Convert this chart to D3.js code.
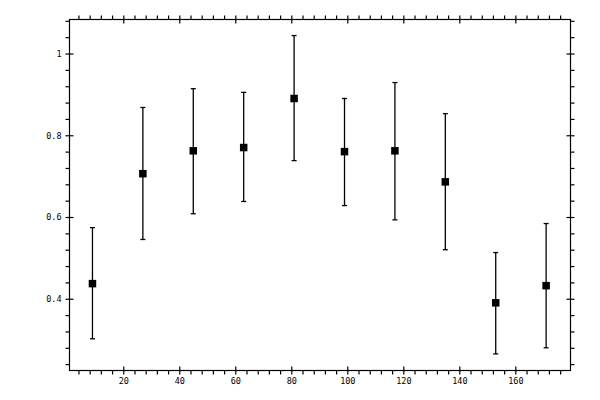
<!DOCTYPE html>
<html lang="en">
<head>
<meta charset="utf-8">
<title>Error bar chart</title>
<style>
body { margin: 0; background: #fff; }
.tickText { font: 8.5px "DejaVu Sans Mono", monospace; fill: #000; }
</style>
</head>
<body>
<div id="chart"></div>
<script src="https://d3js.org/d3.v7.min.js"></script>
<script>
// data
var xValues = [9, 27, 45, 63, 81, 99, 117, 135, 153, 171];
var meanValues = [0.437, 0.706, 0.762, 0.770, 0.890, 0.760, 0.762, 0.686, 0.390, 0.432];
var upperValues = [0.574, 0.868, 0.914, 0.905, 1.044, 0.890, 0.929, 0.853, 0.513, 0.584];
var lowerValues = [0.302, 0.545, 0.608, 0.638, 0.738, 0.628, 0.593, 0.520, 0.265, 0.280];
var xMajorTicks = [20, 40, 60, 80, 100, 120, 140, 160];
var yMajorTicks = [0.4, 0.6, 0.8, 1];

var width = 600, height = 400;
// plot frame (window.top is reserved, so no bare "top")
var plotLeft = 69.5, plotRight = 570.5, plotTop = 19.5, plotBottom = 370.5;

var x = d3.scaleLinear().domain([0.8, 179.7]).range([plotLeft, plotRight]);
var y = d3.scaleLinear().domain([0.2244, 1.0833]).range([plotBottom, plotTop]);

var xMinor = d3.range(4, 180, 4).filter(function(v) { return v % 20 != 0; });
var yMinor = d3.range(24, 109, 4).map(function(v) { return v / 100; })
  .filter(function(v) { return Math.round(v * 100) % 20 != 0; });

var svg = d3.select('#chart').append('svg')
  .attr('width', width).attr('height', height);

// frame
svg.append('rect')
  .attr('x', plotLeft).attr('y', plotTop)
  .attr('width', plotRight - plotLeft).attr('height', plotBottom - plotTop)
  .attr('fill', 'none').attr('stroke', '#000').attr('stroke-width', 1.2);

// axes: minor ticks outward, major ticks crossing the frame
function addAxis(axisFn, scale, pos, major, minor, labels) {
  var g = svg.append('g').attr('transform', pos);
  g.append('g').call(axisFn(scale).tickValues(minor).tickSize(4).tickFormat(''));
  var m = g.append('g').call(axisFn(scale).tickValues(major).tickSize(4)
    .tickFormat(labels ? d3.format('') : ''));
  g.selectAll('.domain').remove();
  g.selectAll('line').attr('stroke-width', 1.2);
  return m;
}
function cross(m, attr) {
  m.selectAll('line').attr(attr, function() {
    return -d3.select(this).attr(attr === 'x1' ? 'x2' : 'y2');
  });
}

var bottomAx = addAxis(d3.axisBottom, x, 'translate(0,' + plotBottom + ')', xMajorTicks, xMinor, true);
cross(bottomAx, 'y1');
bottomAx.selectAll('text').attr('y', 7).attr('dy', '0.71em');
var topAx = addAxis(d3.axisTop, x, 'translate(0,' + plotTop + ')', xMajorTicks, xMinor, false);
cross(topAx, 'y1');
var leftAx = addAxis(d3.axisLeft, y, 'translate(' + plotLeft + ',0)', yMajorTicks, yMinor, true);
cross(leftAx, 'x1');
leftAx.selectAll('text').attr('x', -8);
var rightAx = addAxis(d3.axisRight, y, 'translate(' + plotRight + ',0)', yMajorTicks, yMinor, false);
cross(rightAx, 'x1');
svg.selectAll('.tick text').attr('fill', '#000')
  .style('font-family', '"DejaVu Sans Mono", monospace').style('font-size', '8.5px');

// error bars
var pts = xValues.map(function(v, i) {
  return { x: v, m: meanValues[i], hi: upperValues[i], lo: lowerValues[i] };
});
var bars = svg.append('g').attr('stroke', '#000').attr('stroke-width', 1.3);
bars.selectAll('.stem').data(pts).enter().append('line')
  .attr('x1', function(d) { return x(d.x); }).attr('x2', function(d) { return x(d.x); })
  .attr('y1', function(d) { return y(d.hi); }).attr('y2', function(d) { return y(d.lo); });
bars.selectAll('.capHi').data(pts).enter().append('line')
  .attr('x1', function(d) { return x(d.x) - 2.5; }).attr('x2', function(d) { return x(d.x) + 2.5; })
  .attr('y1', function(d) { return y(d.hi); }).attr('y2', function(d) { return y(d.hi); });
bars.selectAll('.capLo').data(pts).enter().append('line')
  .attr('x1', function(d) { return x(d.x) - 2.5; }).attr('x2', function(d) { return x(d.x) + 2.5; })
  .attr('y1', function(d) { return y(d.lo); }).attr('y2', function(d) { return y(d.lo); });

// square markers
svg.append('g').selectAll('rect').data(pts).enter().append('rect')
  .attr('x', function(d) { return x(d.x) - 3.75; })
  .attr('y', function(d) { return y(d.m) - 3.75; })
  .attr('width', 7.5).attr('height', 7.5)
  .attr('fill', '#000');
</script>
</body>
</html>
